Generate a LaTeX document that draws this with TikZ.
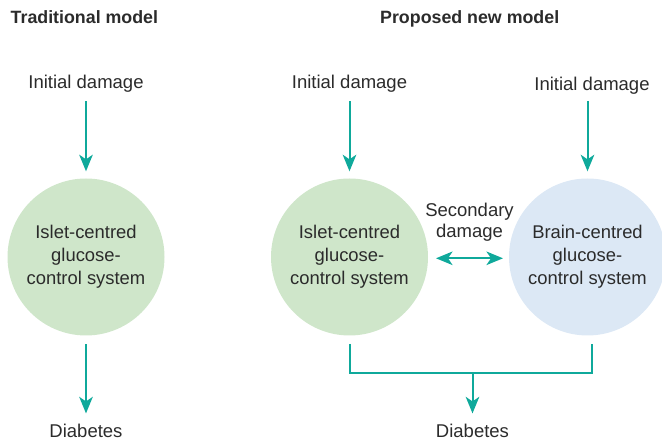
\documentclass[tikz,border=0pt]{standalone}
\usepackage{fontspec}
\setmainfont{Liberation Sans}
\usetikzlibrary{arrows.meta}
\definecolor{tealc}{HTML}{0FA99B}
\definecolor{isletc}{HTML}{CFE6CA}
\definecolor{brainc}{HTML}{DCE8F5}
\definecolor{txtc}{HTML}{2B2B2B}
\begin{document}
\begin{tikzpicture}[x=1pt,y=-1pt,
  lab/.style={font=\fontsize{18.5}{21}\selectfont, text=txtc, inner sep=0pt, anchor=base, align=center},
  ttl/.style={font=\fontsize{17.8}{21}\selectfont\bfseries, text=txtc, inner sep=0pt, anchor=base west},
  circ/.style={circle, minimum size=157pt, inner sep=0pt, align=center,
    font=\fontsize{18.4}{22.8}\selectfont, text=txtc},
  tline/.style={draw=tealc, line width=2pt},
  tip/.tip={Stealth[length=16.5pt,width=13.5pt,inset=4.5pt]},
  arr/.style={tline, -tip},
  darr/.style={tline, tip-tip}
]
\useasboundingbox (0,0) rectangle (662,443);

% titles
\node[ttl] (t1) at (10.5,24) {Traditional model};
\node[ttl] (t2) at (380,24) {Proposed new model};

% traditional
\node[lab] (i1) at (86,88.5) {Initial damage};
\node[circ, fill=isletc] (c1) at (86,257) {Islet-centred\\glucose-\\control system};
\node[lab] (d1) at (86,438) {Diabetes};
\draw[arr, shorten <=8.5pt, shorten >=7pt] (i1.south) -- (c1.north);
\draw[arr, shorten <=8.5pt, shorten >=11pt] (c1.south) -- (d1.north);

% proposed
\node[lab] (i2) at (349.5,88.5) {Initial damage};
\node[lab] (i3) at (592,90.5) {Initial damage};
\node[circ, fill=isletc] (c2) at (349.5,257) {Islet-centred\\glucose-\\control system};
\node[circ, fill=brainc] (c3) at (587.5,257) {Brain-centred\\glucose-\\control system};
\node[lab] (sd) at (469.5,237.5) {Secondary\\damage};
\node[lab] (d2) at (472.5,438) {Diabetes};

\coordinate (a3) at (587.5,101);
\draw[arr, shorten <=8.5pt, shorten >=7pt] (i2.south) -- (c2.north);
\draw[arr, shorten >=7pt] (a3) -- (c3.north);

\coordinate (sl) at (436,258.3);
\coordinate (sr) at (503,258.3);
\draw[darr] (sl) -- (sr);

\coordinate (bl0) at (349.5,344);
\coordinate (bl) at (349.5,373);
\coordinate (br0) at (592,344);
\coordinate (br) at (592,373);
\coordinate (bm) at (472.5,373);
\draw[tline] (bl0) -- (bl) -- (br) -- (br0);
\draw[arr, shorten >=11pt] (bm) -- (d2.north);
\end{tikzpicture}
\end{document}
